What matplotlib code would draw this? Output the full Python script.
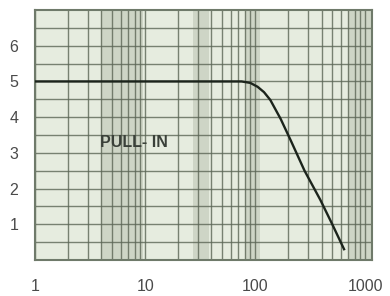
import matplotlib
matplotlib.use("Agg")
import matplotlib.pyplot as plt
from matplotlib.ticker import FixedLocator, NullFormatter, LogLocator
import numpy as np

# Data
freq = [1, 75, 90, 105, 120, 137, 170, 209, 280, 390, 500, 640]
volts = [5.0, 5.0, 4.96, 4.85, 4.7, 4.48, 3.95, 3.36, 2.5, 1.68, 1.0, 0.3]
xticks = [1, 10, 100, 1000]
xticklabels = ["1", "10", "100", "1000"]
yticks = [1, 2, 3, 4, 5, 6]
yticklabels = ["1", "2", "3", "4", "5", "6"]
label_text = "PULL- IN"

plt.rcParams['font.family'] = ['Liberation Sans', 'DejaVu Sans']

fig = plt.figure(figsize=(3.9, 2.96), dpi=100)
fig.patch.set_facecolor('white')
ax = fig.add_axes([0.09, 0.122, 0.864, 0.844])
ax.set_facecolor('#e6ecdf')
ax.set_xscale('log')
ax.set_xlim(1, 1150)
ax.set_ylim(0, 7)

# shaded bands seen in the scan
for a, b in [(4, 9.5), (27, 38), (80, 110), (700, 1150)]:
    ax.axvspan(a, b, color='#aab3a2', alpha=0.4, lw=0, zorder=0)

ax.xaxis.set_major_locator(FixedLocator(xticks))
ax.xaxis.set_minor_locator(LogLocator(base=10, subs=np.arange(2, 10), numticks=20))
ax.xaxis.set_minor_formatter(NullFormatter())
ax.set_xticklabels(xticklabels)
ax.yaxis.set_major_locator(FixedLocator(yticks))
ax.yaxis.set_minor_locator(FixedLocator(np.arange(0.5, 7, 0.5)))
ax.set_yticklabels(yticklabels)

gc = '#5c6656'
ax.grid(True, which='both', axis='both', color=gc, lw=1.0, alpha=0.8)
ax.set_axisbelow(True)
ax.tick_params(which='both', length=0)
ax.tick_params(axis='x', pad=14, labelsize=11.5, labelcolor='#4a4a4a')
ax.tick_params(axis='y', pad=12, labelsize=11.5, labelcolor='#4a4a4a')
for s in ax.spines.values():
    s.set_color('#6f7a6a')
    s.set_linewidth(1.5)

ax.plot(freq, volts, color='#1c241c', lw=1.7, zorder=3)
ax.text(3.9, 3.28, label_text, fontsize=11.5, color='#3a4039', va='center', ha='left', fontweight='bold')

fig.savefig('out.png', dpi=100)
